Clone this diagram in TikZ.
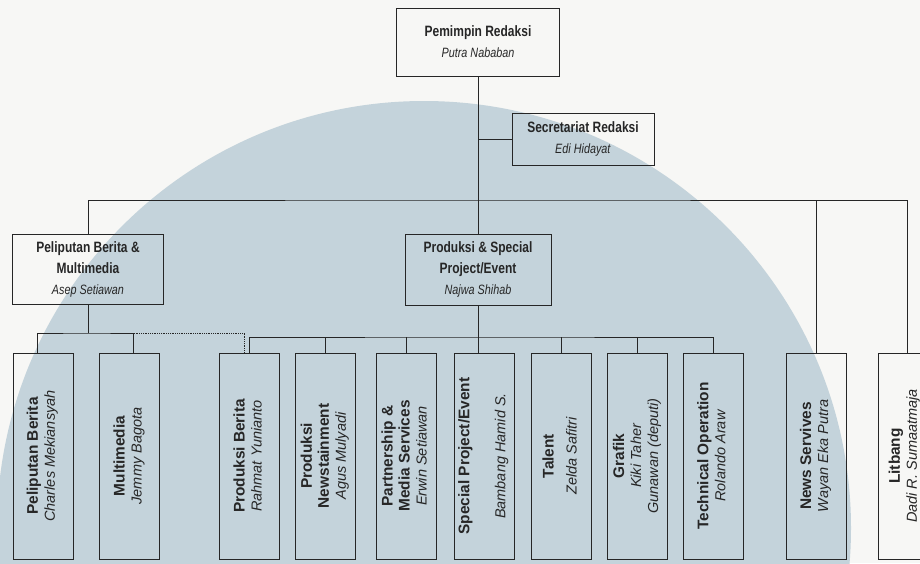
\documentclass[tikz,border=0pt]{standalone}
\usepackage{fontspec}
\setmainfont{Liberation Sans}
\newfontfamily\narrowsf[FakeStretch=0.8]{Liberation Sans}
\usetikzlibrary{positioning}

\definecolor{watermark}{RGB}{196,211,219}
\definecolor{paper}{RGB}{247,247,245}
\definecolor{ink}{RGB}{38,38,38}

\newcommand{\vlab}[1]{\rotatebox{90}{\begin{tabular}{@{}c@{}}#1\end{tabular}}}
\newcommand{\who}[1]{{\fontsize{14.5}{17}\selectfont\mdseries\itshape #1}}

\begin{document}
\begin{tikzpicture}[x=1pt,y=-1pt,line width=0.8pt,color=ink,node distance=15pt]
	\tikzstyle{hbox}=[draw,inner sep=0pt,align=center,font=\narrowsf\fontsize{15}{21}\selectfont]
	\tikzstyle{vbox}=[draw,inner sep=0pt,minimum width=60pt,minimum height=206pt,font=\fontsize{15.4}{17}\selectfont\bfseries]

	\useasboundingbox (0,0) rectangle (920,563);
	\clip (0,0) rectangle (920,563);
	\fill[paper] (0,0) rectangle (920,563);
	\fill[watermark] (424,528) circle[radius=427pt];

	\node[hbox,minimum width=163pt,minimum height=68pt] (pr) at (478,42) {\textbf{Pemimpin Redaksi}\\\textit{\fontsize{13.5}{21}\selectfont Putra Nababan}};
	\node[hbox,minimum width=142pt,minimum height=52pt] (sr) at (583,139) {\textbf{Secretariat Redaksi}\\\textit{\fontsize{13.5}{21}\selectfont Edi Hidayat}};
	\node[hbox,minimum width=151pt,minimum height=70pt] (pbm) at (88,269) {\textbf{Peliputan Berita \&}\\\textbf{Multimedia}\\\textit{\fontsize{13.5}{21}\selectfont Asep Setiawan}};
	\node[hbox,minimum width=146pt,minimum height=71pt] (psp) at (478,269.5) {\textbf{Produksi \& Special}\\\textbf{Project/Event}\\\textit{\fontsize{13.5}{21}\selectfont Najwa Shihab}};

	\node[vbox] (pb) at (43,456) {\vlab{Peliputan Berita\\\who{Charles Mekiansyah}}};
	\node[vbox] (mm) [right=26pt of pb] {\vlab{Multimedia\\\who{Jemmy Bagota}}};
	\node[vbox] (prb) [right=59pt of mm] {\vlab{Produksi Berita\\\who{Rahmat Yunianto}}};
	\node[vbox] (pn) [right=of prb] {\vlab{Produksi\\Newstainment\\\who{Agus Mulyadi}}};
	\node[vbox] (pms) [right=20pt of pn] {\vlab{Partnership \&\\Media Services\\\who{Erwin Setiawan}}};
	\node[vbox] (spe) [right=17pt of pms] {\vlab{Special Project/Event\\[19pt]\who{Bambang Hamid S.}}};
	\node[vbox] (tal) [right=17pt of spe] {\vlab{Talent\\[6pt]\who{Zelda Safitri}}};
	\node[vbox] (gra) [right=of tal] {\vlab{Grafik\\\who{Kiki Taher}\\\who{Gunawan (deputi)}}};
	\node[vbox] (to) [right=of gra] {\vlab{Technical Operation\\\who{Rolando Araw}}};
	\node[vbox] (ns) [right=42pt of to] {\vlab{News Servives\\\who{Wayan Eka Putra}}};
	\node[vbox,minimum width=54pt] (lit) [right=31pt of ns] {\vlab{Litbang\\\who{Dadi R. Sumaatmaja}}};

	\coordinate (bus) at (478,200);
	\coordinate (sub1) at (88,333);
	\coordinate (sub2) at (478,337);

	\draw (pr.south) -- (bus);
	\draw (pr.south |- sr.west) -- (sr.west);
	\draw (pbm.north) |- (bus) -| ([xshift=2pt]lit.north);
	\draw (bus) -- (psp.north);
	\draw (bus -| ns.north) -- (ns.north);
	\draw (pbm.south) -- (sub1);
	\draw ([xshift=-6pt]pb.north) |- (sub1) -| ([xshift=4pt]mm.north);
	\draw[densely dotted] ([xshift=4pt]mm.north |- sub1) -| ([xshift=-5pt]prb.north);
	\draw (psp.south) -- (psp.south |- spe.north);
	\draw (prb.north) |- (sub2) -| (to.north);
	\foreach \n in {pn,pms,tal,gra}
		\draw (\n.north) -- (\n.north |- sub2);
\end{tikzpicture}
\end{document}
